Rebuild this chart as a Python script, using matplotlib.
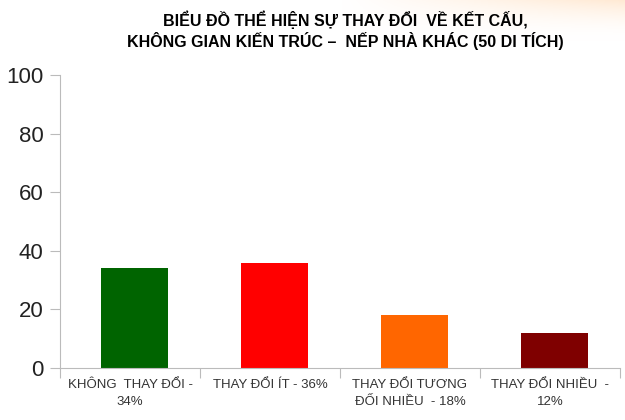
import numpy as np
import matplotlib.pyplot as plt

categories = ["KHÔNG  THAY ĐỔI -\n34%", "THAY ĐỔI ÍT - 36%",
              "THAY ĐỔI TƯƠNG\nĐỐI NHIỀU  - 18%", "THAY ĐỔI NHIỀU  -\n12%"]
values = [34, 36, 18, 12]
colors = ["#006400", "#ff0000", "#ff6600", "#7f0000"]
yticks = [0, 20, 40, 60, 80, 100]
title = "BIỂU ĐỒ THỂ HIỆN SỰ THAY ĐỔI  VỀ KẾT CẤU,\nKHÔNG GIAN KIẾN TRÚC –  NẾP NHÀ KHÁC (50 DI TÍCH)"

plt.rcParams["font.family"] = ["Liberation Sans", "DejaVu Sans"]

fig = plt.figure(figsize=(6.25, 4.2), dpi=100)

# faint peach band at the top right
bg = fig.add_axes([0, 0, 1, 1], zorder=-1)
grad = np.linspace(0, 1, 200)
img = np.ones((40, 200, 3))
top = np.clip((grad - 0.55) / 0.45, 0, 1)
fade = np.linspace(1, 0, 40)[:, None] ** 2
a = top[None, :] * fade * 0.14
img[..., 1] -= a * 0.6
img[..., 2] -= a * 1.2
img = np.clip(img, 0, 1)
bg.imshow(img, extent=[0, 1, 0.9, 1], aspect="auto")
bg.set_xlim(0, 1)
bg.set_ylim(0, 1)
bg.axis("off")

ax = fig.add_axes([0.096, 0.124, 0.896, 0.697])
ax.patch.set_alpha(0)
x = np.arange(len(values))
ax.bar(x + 0.03, values, width=0.48, color=colors)
ax.set_xlim(-0.5, len(values) - 0.5)
ax.set_ylim(0, 100)
ax.set_yticks(yticks)
ax.set_yticklabels([str(v) for v in yticks], fontsize=16, color="#222222")
ax.set_xticks(np.arange(len(values) + 1) - 0.5)
ax.set_xticklabels([])
ax.set_xticks(x, minor=True)
ax.set_xticklabels(categories, minor=True, fontsize=9.5, color="#333333",
                   linespacing=1.6)
ax.tick_params(axis="x", which="minor", length=0, pad=8)
ax.tick_params(axis="x", which="major", length=7, color="#bbbbbb")
ax.tick_params(axis="y", length=7, color="#bbbbbb", pad=5)
for s in ["top", "right"]:
    ax.spines[s].set_visible(False)
for s in ["left", "bottom"]:
    ax.spines[s].set_color("#bbbbbb")

fig.text(0.552, 0.975, title, ha="center", va="top", fontsize=11.5,
         fontweight="bold", linespacing=1.2, color="black")

fig.savefig("out.png", dpi=100)
